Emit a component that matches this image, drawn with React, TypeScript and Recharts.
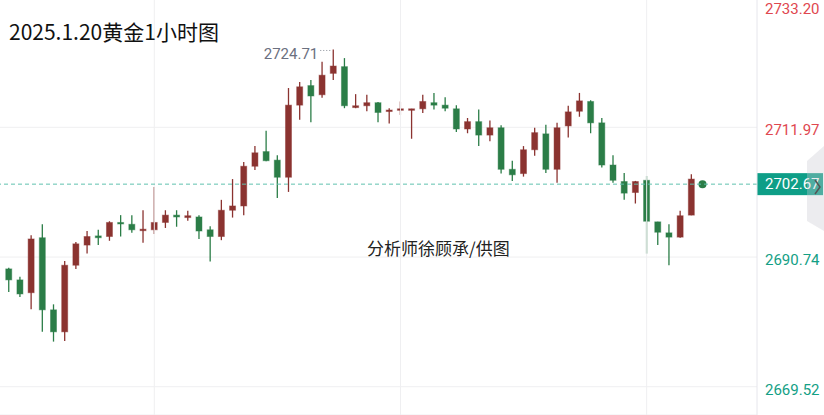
import React from 'react';
import {
  ComposedChart,
  Bar,
  XAxis,
  YAxis,
  CartesianGrid,
  ReferenceLine,
} from 'recharts';

// 1h gold candles, oldest first (last one is the live candle)
const opens = [
  2688.8, 2687.0, 2684.9, 2693.9, 2682.1, 2678.5, 2689.4, 2692.7, 2694.2, 2694.1,
  2696.4, 2696.1, 2695.2, 2695.2, 2696.4, 2697.6, 2697.2, 2697.3, 2695.2, 2694.1,
  2698.4, 2699.1, 2705.6, 2708.0, 2706.6, 2703.8, 2715.6, 2718.8, 2717.3, 2720.8,
  2721.9, 2715.2, 2715.5, 2716.0, 2714.6, 2714.8, 2714.8, 2715.0, 2716.0, 2715.6,
  2715.0, 2711.7, 2712.9, 2710.7, 2711.9, 2705.1, 2704.4, 2708.3, 2710.9, 2705.1,
  2712.2, 2714.6, 2716.2, 2712.7, 2705.8, 2703.1, 2701.3, 2703.3, 2696.5, 2694.7,
  2694.0, 2697.6, 2702.8,
];
const highs = [
  2689.0, 2687.5, 2694.3, 2696.1, 2683.0, 2690.1, 2693.2, 2695.0, 2695.2, 2696.6,
  2697.6, 2697.6, 2698.4, 2702.2, 2698.4, 2698.4, 2698.3, 2697.6, 2695.8, 2700.1,
  2703.5, 2706.3, 2708.9, 2711.4, 2707.4, 2718.4, 2719.4, 2719.7, 2722.7, 2724.71,
  2723.3, 2717.4, 2717.3, 2716.1, 2715.1, 2716.2, 2715.0, 2717.3, 2717.6, 2716.9,
  2715.6, 2713.5, 2714.9, 2713.1, 2712.3, 2706.5, 2708.9, 2711.9, 2712.4, 2712.7,
  2715.5, 2717.6, 2716.4, 2713.5, 2707.4, 2704.5, 2703.2, 2704.0, 2696.5, 2696.1,
  2698.3, 2704.3, 2702.9,
];
const lows = [
  2685.0, 2684.2, 2682.2, 2678.5, 2676.9, 2677.0, 2688.8, 2691.3, 2692.7, 2693.4,
  2694.1, 2694.7, 2693.1, 2694.5, 2695.5, 2695.7, 2696.7, 2693.7, 2690.0, 2693.5,
  2697.2, 2697.6, 2705.0, 2706.4, 2700.4, 2701.4, 2713.2, 2712.8, 2716.8, 2719.7,
  2715.1, 2715.1, 2714.6, 2712.8, 2712.6, 2714.0, 2710.1, 2714.3, 2714.9, 2714.6,
  2711.2, 2711.0, 2708.9, 2709.7, 2704.4, 2703.2, 2703.9, 2707.3, 2704.5, 2702.9,
  2710.3, 2713.7, 2711.0, 2705.4, 2702.9, 2700.1, 2699.5, 2691.3, 2692.7, 2689.4,
  2693.9, 2697.6, 2702.5,
];
const closes = [
  2687.0, 2684.7, 2693.7, 2682.1, 2678.5, 2689.4, 2692.9, 2694.1, 2693.9, 2696.4,
  2696.2, 2695.2, 2695.3, 2696.4, 2697.6, 2697.3, 2697.5, 2695.0, 2694.1, 2698.4,
  2699.1, 2705.6, 2707.8, 2706.5, 2703.8, 2715.6, 2718.6, 2717.1, 2720.5, 2722.0,
  2715.5, 2715.5, 2716.0, 2714.4, 2714.8, 2715.0, 2715.0, 2716.2, 2715.6, 2715.1,
  2711.7, 2712.9, 2710.7, 2711.9, 2705.1, 2704.2, 2708.3, 2711.1, 2705.1, 2711.9,
  2714.5, 2716.3, 2712.7, 2705.8, 2703.3, 2701.2, 2703.1, 2696.6, 2694.8, 2694.0,
  2697.5, 2703.5, 2702.67,
];

const priceTicks = [2669.52, 2690.74, 2711.97, 2733.2];
const lastPrice = 2702.67;
const gridCandles = [13, 35, 57];

const UP = '#8b3330';
const DOWN = '#2b7d47';

const rows = opens.map((open, i) => ({
  i,
  open,
  high: highs[i],
  low: lows[i],
  close: closes[i],
  range: [lows[i], highs[i]],
  live: i === opens.length - 1,
}));
const maxHigh = Math.max(...highs);

const Candle = (props: any) => {
  const { x, y, width, height, payload } = props;
  if (x == null || !payload) return null;
  const { open, close, high, low, live } = payload;
  const k = height / (high - low);
  const py = (v: number) => y + (high - v) * k;
  const cx = x + width / 2;
  const color = close >= open ? UP : DOWN;
  if (live) return <circle cx={cx} cy={py(close)} r={4} fill={DOWN} />;
  const top = py(Math.max(open, close));
  const bh = Math.max(py(Math.min(open, close)) - top, 1.5);
  return (
    <g>
      <line x1={cx} x2={cx} y1={y} y2={y + height} stroke={color} strokeWidth={1.3} />
      <rect
        x={cx - 3}
        y={top}
        width={6}
        height={bh}
        fill={color}
        stroke={color}
        strokeOpacity={0.45}
        strokeWidth={1}
      />
      {high === maxHigh && (
        <g>
          <line
            x1={cx - 13}
            x2={cx - 1}
            y1={y + 1}
            y2={y + 1}
            stroke="#8a8f99"
            strokeDasharray="1 2"
          />
          <text
            x={cx - 15}
            y={y + 5}
            textAnchor="end"
            dominantBaseline="central"
            fontSize={15}
            fontFamily="Roboto"
            fill="#6b7080"
          >
            {high.toFixed(2)}
          </text>
        </g>
      )}
    </g>
  );
};

const PriceTick = (props: any) => {
  const { x, y, payload } = props;
  const v = payload.value;
  return (
    <text
      x={x + 8}
      y={Math.max(y + 3, 8.5)}
      dominantBaseline="central"
      fontSize={15}
      fontFamily="Roboto"
      fill={v > lastPrice ? '#e0474f' : '#13a085'}
    >
      {v.toFixed(2)}
    </text>
  );
};

const PriceTag = (props: any) => {
  const vb = props.viewBox || {};
  const x = vb.x + vb.width;
  const y = vb.y;
  return (
    <g>
      <rect x={x} y={y - 11} width={66} height={22} fill="#0e9e87" />
      <text
        x={x + 8}
        y={y}
        dominantBaseline="central"
        fontSize={15}
        fontFamily="Roboto"
        fill="#fff"
      >
        {lastPrice.toFixed(2)}
      </text>
    </g>
  );
};

const App = () => {
  return (
    <div
      style={{
        position: 'absolute',
        left: 0,
        top: 0,
        width: 824,
        height: 415,
        background: '#fff',
        overflow: 'hidden',
      }}
    >
      <ComposedChart
        width={824}
        height={415}
        data={rows}
        margin={{ top: -2.4, right: 0, bottom: 0, left: 0 }}
      >
        <CartesianGrid stroke="#efeff1" vertical={false} />
        <XAxis
          dataKey="i"
          type="number"
          domain={[-0.79, 66.86]}
          allowDataOverflow
          ticks={gridCandles}
          height={0}
          tick={false}
          axisLine={false}
          tickLine={false}
        />
        <YAxis
          orientation="right"
          type="number"
          domain={[2664.89, 2733.2]}
          allowDataOverflow
          ticks={priceTicks}
          interval={0}
          width={67}
          tickSize={0}
          tickMargin={0}
          tickLine={false}
          axisLine={{ stroke: '#e6e6ec' }}
          tick={<PriceTick />}
        />
        {gridCandles.map((c) => (
          <ReferenceLine key={c} x={c} stroke="#efeff1" />
        ))}
        <ReferenceLine
          y={lastPrice}
          stroke="#5fc1ae"
          strokeDasharray="4 3"
          label={(p: any) => <PriceTag {...p} />}
        />
        <Bar dataKey="range" barSize={7} shape={<Candle />} isAnimationActive={false} />
      </ComposedChart>
      <svg
        width={824}
        height={415}
        style={{ position: 'absolute', left: 0, top: 0, pointerEvents: 'none' }}
      >
        <text
          x={9}
          y={31}
          dominantBaseline="central"
          fontSize={21}
          fontFamily="'Noto Sans CJK SC'"
          fill="#111"
        >
          2025.1.20黄金1小时图
        </text>
        <text
          x={367}
          y={247}
          dominantBaseline="central"
          fontSize={17}
          fontFamily="'Noto Sans CJK SC'"
          fill="#222"
        >
          分析师徐顾承/供图
        </text>
        <polygon points="807,161 824,146 824,231 807,221" fill="rgba(200,200,210,0.35)" />
        <path d="M815,180 L820,187 L815,194" fill="none" stroke="#555" strokeWidth={1.5} />
      </svg>
    </div>
  );
};

export default App;
